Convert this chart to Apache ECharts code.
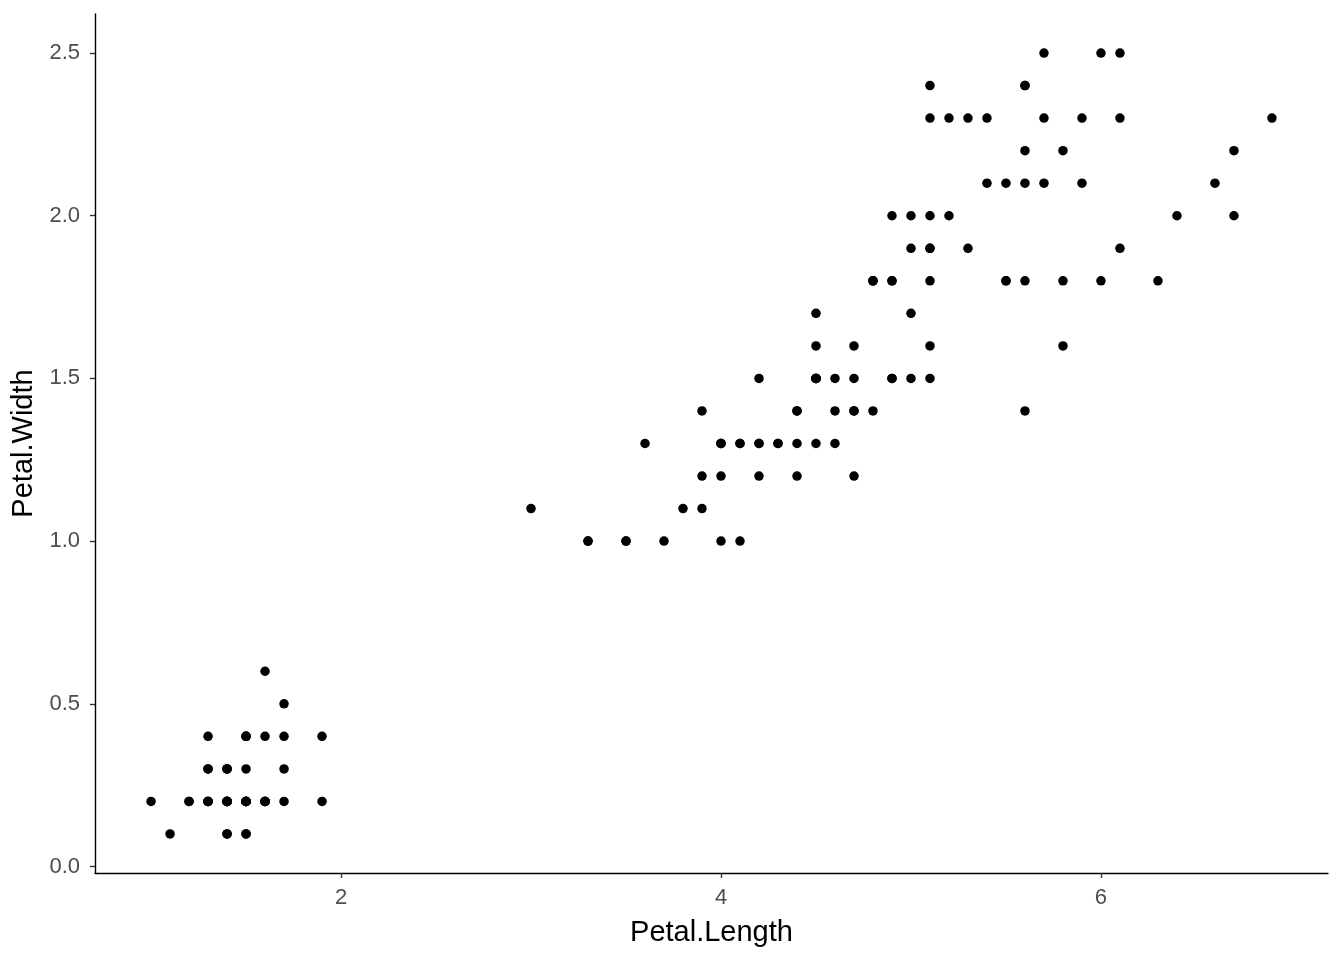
<!DOCTYPE html>
<html>
<head>
<meta charset="utf-8">
<script src="https://cdn.jsdelivr.net/npm/echarts@6/dist/echarts.min.js"></script>
<style>
html,body{margin:0;padding:0;background:#fff;}
#chart{width:1344px;height:960px;}
</style>
</head>
<body>
<div id="chart"></div>
<script>
const petalLength = [
1.4,1.4,1.3,1.5,1.4,1.7,1.4,1.5,1.4,1.5,1.5,1.6,1.4,1.1,1.2,1.5,1.3,1.4,1.7,1.5,
1.7,1.5,1.0,1.7,1.9,1.6,1.6,1.5,1.4,1.6,1.6,1.5,1.5,1.4,1.5,1.2,1.3,1.4,1.3,1.5,
1.3,1.3,1.3,1.6,1.9,1.4,1.6,1.4,1.5,1.4,
4.7,4.5,4.9,4.0,4.6,4.5,4.7,3.3,4.6,3.9,3.5,4.2,4.0,4.7,3.6,4.4,4.5,4.1,4.5,3.9,
4.8,4.0,4.9,4.7,4.3,4.4,4.8,5.0,4.5,3.5,3.8,3.7,3.9,5.1,4.5,4.5,4.7,4.4,4.1,4.0,
4.4,4.6,4.0,3.3,4.2,4.2,4.2,4.3,3.0,4.1,
6.0,5.1,5.9,5.6,5.8,6.6,4.5,6.3,5.8,6.1,5.1,5.3,5.5,5.0,5.1,5.3,5.5,6.7,6.9,5.0,
5.7,4.9,6.7,4.9,5.7,6.0,4.8,4.9,5.6,5.8,6.1,6.4,5.6,5.1,5.6,6.1,5.6,5.5,4.8,5.4,
5.6,5.1,5.1,5.9,5.7,5.2,5.0,5.2,5.4,5.1
];
const petalWidth = [
0.2,0.2,0.2,0.2,0.2,0.4,0.3,0.2,0.2,0.1,0.2,0.2,0.1,0.1,0.2,0.4,0.4,0.3,0.3,0.3,
0.2,0.4,0.2,0.5,0.2,0.2,0.4,0.2,0.2,0.2,0.2,0.4,0.1,0.2,0.2,0.2,0.2,0.1,0.2,0.2,
0.3,0.3,0.2,0.6,0.4,0.3,0.2,0.2,0.2,0.2,
1.4,1.5,1.5,1.3,1.5,1.3,1.6,1.0,1.3,1.4,1.0,1.5,1.0,1.4,1.3,1.4,1.5,1.0,1.5,1.1,
1.8,1.3,1.5,1.2,1.3,1.4,1.4,1.7,1.5,1.0,1.1,1.0,1.2,1.6,1.5,1.6,1.5,1.3,1.3,1.3,
1.2,1.4,1.2,1.0,1.3,1.2,1.3,1.3,1.1,1.3,
2.5,1.9,2.1,1.8,2.2,2.1,1.7,1.8,1.8,2.5,2.0,1.9,2.1,2.0,2.4,2.3,1.8,2.2,2.3,1.5,
2.3,2.0,2.0,1.8,2.1,1.8,1.8,1.8,2.1,1.6,1.9,2.0,2.2,1.5,1.4,2.3,2.4,1.8,1.8,2.1,
2.4,2.3,1.9,2.3,2.5,2.3,1.9,2.0,2.3,1.8
];
const xTicks = [2, 4, 6];
const yTicks = [0, 0.5, 1.0, 1.5, 2.0, 2.5];
const xTitle = 'Petal.Length';
const yTitle = 'Petal.Width';

const points = petalLength.map((v, i) => [v, petalWidth[i]]);
const font = '"Liberation Sans", Arial, sans-serif';

const chart = echarts.init(document.getElementById('chart'), null, {renderer: 'canvas'});
chart.setOption({
  animation: false,
  backgroundColor: '#ffffff',
  grid: {left: 95, right: 16, top: 14, bottom: 87, containLabel: false, outerBoundsMode: 'none'},
  xAxis: {
    type: 'value',
    min: 0.705, max: 7.195,
    name: xTitle,
    nameLocation: 'middle',
    nameGap: 45,
    nameTextStyle: {color: '#000000', fontSize: 29, fontFamily: font},
    splitLine: {show: false},
    axisLine: {show: true, onZero: false, lineStyle: {color: '#000000', width: 1.4}},
    axisTick: {show: true, customValues: xTicks, length: 5, lineStyle: {color: '#333333', width: 1.4}},
    axisLabel: {customValues: xTicks, color: '#4d4d4d', fontSize: 22, fontFamily: font, margin: 14,
      formatter: v => String(Math.round(v))}
  },
  yAxis: {
    type: 'value',
    min: -0.02, max: 2.62,
    name: yTitle,
    nameLocation: 'middle',
    nameGap: 53,
    nameTextStyle: {color: '#000000', fontSize: 29, fontFamily: font},
    splitLine: {show: false},
    axisLine: {show: true, onZero: false, lineStyle: {color: '#000000', width: 1.4}},
    axisTick: {show: true, customValues: yTicks, length: 5, lineStyle: {color: '#333333', width: 1.4}},
    axisLabel: {customValues: yTicks, color: '#4d4d4d', fontSize: 22, fontFamily: font, margin: 15,
      formatter: v => Number(v).toFixed(1)}
  },
  series: [{
    type: 'scatter',
    data: points,
    symbol: 'circle',
    symbolSize: 9.5,
    itemStyle: {color: '#000000', opacity: 1},
    emphasis: {disabled: true}
  }]
});
</script>
</body>
</html>
